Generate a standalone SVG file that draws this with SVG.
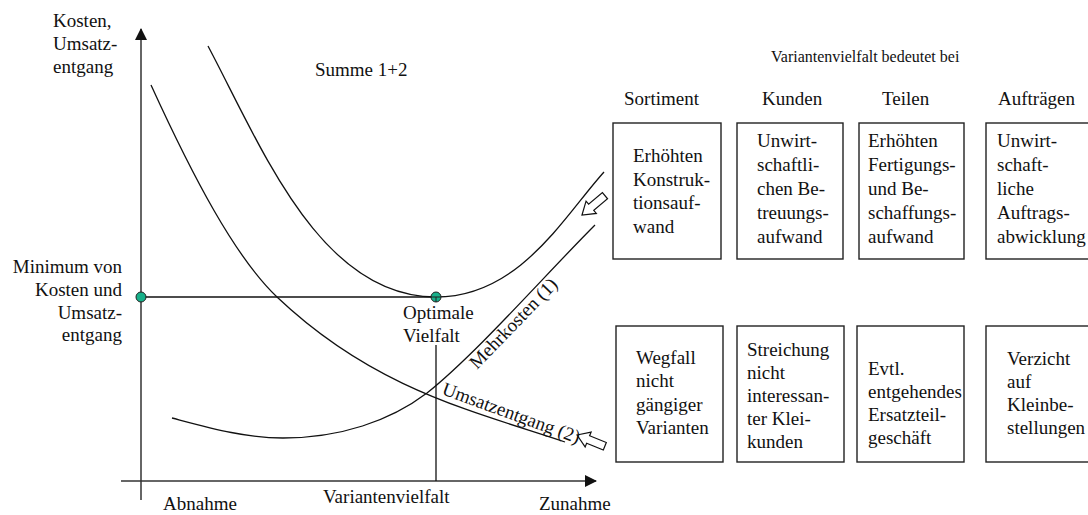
<svg xmlns="http://www.w3.org/2000/svg" width="1088" height="515" viewBox="0 0 1088 515" font-family="'Liberation Serif', 'Times New Roman', 'DejaVu Serif', serif">
  <style>
    text { font-family: 'Liberation Serif', 'Times New Roman', 'DejaVu Serif', serif; font-size: 19px; fill: #111; }
    .small { font-size: 16px; }
    .axis { stroke: #333; stroke-width: 1.5; fill: none; }
    .curve { stroke: #111; stroke-width: 1.3; fill: none; }
    .box { fill: #fff; stroke: #222; stroke-width: 1.4; }
    .dot { fill: #17b08a; stroke: #222; stroke-width: 1; }
    .hollow { fill: #fff; stroke: #111; stroke-width: 1.2; stroke-linejoin: miter; }
  </style>
  <defs>
    <marker id="tip" viewBox="0 0 12 12" refX="11" refY="6" markerWidth="12" markerHeight="12" markerUnits="userSpaceOnUse" orient="auto">
      <path d="M0,0 L12,6 L0,12 Z" fill="#111"/>
    </marker>
    <!-- hollow block arrow pointing toward local origin -->
    <polygon id="blockArrow" points="0,0 12,-8 12,-4 30,-4 30,4 12,4 12,8" class="hollow"/>
  </defs>

  <rect width="1088" height="515" fill="#fff"/>

  <!-- chart axes, curves and guide lines -->
  <g id="connectors">
    <line class="axis" x1="141" y1="500" x2="141" y2="29" marker-end="url(#tip)"/>
    <line class="axis" x1="121" y1="481" x2="596" y2="481" marker-end="url(#tip)"/>
    <line class="curve" x1="141" y1="297" x2="436" y2="297"/>
    <line class="curve" x1="436" y1="345" x2="436" y2="481"/>
    <!-- Summe 1+2 -->
    <path class="curve" d="M208,46 C262,148 320,297 436,297 C520,297 565,215 604,172"/>
    <!-- Umsatzentgang (2) -->
    <path class="curve" d="M151,85 C193,177 235,257 277,297 C373,388 469,410 565,442"/>
    <!-- Mehrkosten (1) -->
    <path class="curve" d="M172,418 C210,428 245,438 283,438 C340,438 390,421 427,393 C477,353 545,275 595,225"/>
    <use href="#blockArrow" transform="translate(582,215) rotate(-40)"/>
    <use href="#blockArrow" transform="translate(577,435) rotate(22)"/>
  </g>

  <g id="axis-labels">
    <text x="53" y="27">Kosten,</text>
    <text x="53" y="50">Umsatz-</text>
    <text x="53" y="73">entgang</text>
    <text x="315" y="76">Summe 1+2</text>
    <text x="122" y="273" text-anchor="end">Minimum von</text>
    <text x="122" y="296" text-anchor="end">Kosten und</text>
    <text x="122" y="318.5" text-anchor="end">Umsatz-</text>
    <text x="122" y="341" text-anchor="end">entgang</text>
    <text x="403" y="319">Optimale</text>
    <text x="403" y="342">Vielfalt</text>
    <text x="323" y="503">Variantenvielfalt</text>
    <text x="163" y="510">Abnahme</text>
    <text x="539" y="510">Zunahme</text>
    <text transform="translate(477,370) rotate(-46)">Mehrkosten (1)</text>
    <text transform="translate(441,394) rotate(20)">Umsatzentgang (2)</text>
  </g>

  <g id="minimum-marker">
    <circle class="dot" cx="141" cy="297" r="5"/>
  </g>
  <g id="optimum-marker">
    <circle class="dot" cx="436" cy="297" r="5"/>
    <line x1="431" y1="297" x2="441" y2="297" stroke="#222" stroke-width="1"/>
    <line x1="436" y1="297" x2="436" y2="302" stroke="#222" stroke-width="1"/>
  </g>

  <g id="headings">
    <text class="small" x="771" y="62">Variantenvielfalt bedeutet bei</text>
    <text x="624" y="105">Sortiment</text>
    <text x="762" y="105">Kunden</text>
    <text x="882" y="105">Teilen</text>
    <text x="998" y="105">Aufträgen</text>
  </g>

  <g id="box-sortiment-kosten">
    <rect class="box" x="613" y="123" width="108" height="136"/>
    <text x="633" y="162">Erhöhten</text>
    <text x="633" y="185.5">Konstruk-</text>
    <text x="633" y="209">tionsauf-</text>
    <text x="633" y="232.5">wand</text>
  </g>
  <g id="box-kunden-kosten">
    <rect class="box" x="737" y="123" width="106" height="136"/>
    <text x="757" y="147">Unwirt-</text>
    <text x="757" y="171">schaftli-</text>
    <text x="757" y="195">chen Be-</text>
    <text x="757" y="219">treuungs-</text>
    <text x="757" y="243">aufwand</text>
  </g>
  <g id="box-teilen-kosten">
    <rect class="box" x="859" y="123" width="105" height="136"/>
    <text x="868" y="147">Erhöhten</text>
    <text x="868" y="171">Fertigungs-</text>
    <text x="868" y="195">und Be-</text>
    <text x="868" y="219">schaffungs-</text>
    <text x="868" y="243">aufwand</text>
  </g>
  <g id="box-auftraege-kosten">
    <rect class="box" x="986" y="123" width="110" height="136"/>
    <text x="997" y="147">Unwirt-</text>
    <text x="997" y="171">schaft-</text>
    <text x="997" y="195">liche</text>
    <text x="997" y="219">Auftrags-</text>
    <text x="997" y="243">abwicklung</text>
  </g>

  <g id="box-sortiment-umsatz">
    <rect class="box" x="616" y="326" width="107" height="136"/>
    <text x="636" y="364">Wegfall</text>
    <text x="636" y="387">nicht</text>
    <text x="636" y="410.5">gängiger</text>
    <text x="636" y="434">Varianten</text>
  </g>
  <g id="box-kunden-umsatz">
    <rect class="box" x="737" y="326" width="107" height="136"/>
    <text x="747" y="356">Streichung</text>
    <text x="747" y="379">nicht</text>
    <text x="747" y="402">interessan-</text>
    <text x="747" y="425">ter Klei-</text>
    <text x="747" y="448">kunden</text>
  </g>
  <g id="box-teilen-umsatz">
    <rect class="box" x="857" y="326" width="107" height="136"/>
    <text x="868" y="375">Evtl.</text>
    <text x="868" y="398">entgehendes</text>
    <text x="868" y="421">Ersatzteil-</text>
    <text x="868" y="444">geschäft</text>
  </g>
  <g id="box-auftraege-umsatz">
    <rect class="box" x="986" y="326" width="110" height="136"/>
    <text x="1007" y="365">Verzicht</text>
    <text x="1007" y="388">auf</text>
    <text x="1007" y="411">Kleinbe-</text>
    <text x="1007" y="434">stellungen</text>
  </g>
</svg>
